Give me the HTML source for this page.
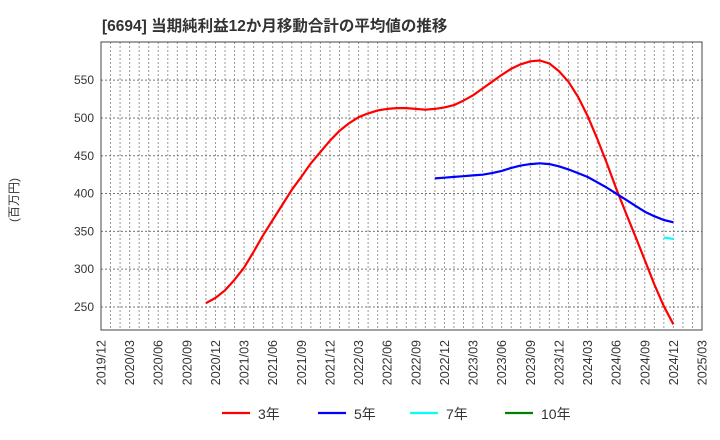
<!DOCTYPE html>
<html><head><meta charset="utf-8">
<style>
html,body{margin:0;padding:0;background:#fff;}
svg{display:block;font-family:"Liberation Sans","Noto Sans CJK JP",sans-serif;}
</style></head>
<body>
<svg id="chart" width="720" height="440" viewBox="0 0 720 440">
  <text x="102" y="31" font-size="15.5" font-weight="bold" fill="#333">[6694]  当期純利益12か月移動合計の平均値の推移</text>
  <text transform="translate(18,200) rotate(-90)" text-anchor="middle" font-size="12" fill="#333">(百万円)</text>
  <g id="grid"></g>
  <g id="yticks"></g>
  <g id="xticks"></g>
  <g id="series"></g>
  <rect x="101" y="42" width="601" height="288" fill="none" stroke="#444" stroke-width="1"/>
  <g id="legend"></g>
</svg>
<script>
const xLabels = ["2019/12","2020/03","2020/06","2020/09","2020/12","2021/03","2021/06","2021/09","2021/12","2022/03","2022/06","2022/09","2022/12","2023/03","2023/06","2023/09","2023/12","2024/03","2024/06","2024/09","2024/12","2025/03"];
const yTicks = [250,300,350,400,450,500,550];
const start3 = 11;
const series3 = [255,262,272,286,302,323,345,365,385,405,422,440,455,470,483,493,501,506,510,512,513,513,512,511,512,514,517,523,530,539,548,557,565,571,575,576,572,562,548,528,503,473,441,407,375,344,312,280,251,227];
const start5 = 35;
const series5 = [420,421,422,423,424,425,427,430,434,437,439,440,439,436,432,427,422,415,408,400,392,384,376,370,365,362];
const start7 = 59;
const series7 = [342,340];
const series10 = [];
const legendNames = ["3年","5年","7年","10年"];
const colors = ["#ff0000","#0000ff","#00ffff","#008000"];

const NS="http://www.w3.org/2000/svg";
const L=101,R=702,T=42,B=330,months=63,yMin=219.5,yMax=600.5;
function xs(m){return L+(R-L)*m/months;}
function ys(v){return B-(B-T)*(v-yMin)/(yMax-yMin);}
function mk(tag,attrs,parent){const e=document.createElementNS(NS,tag);for(const k in attrs)e.setAttribute(k,attrs[k]);parent.appendChild(e);return e;}

const grid=document.getElementById('grid');
for(let m=1;m<months;m++){
  const l=mk('line',{x1:xs(m),x2:xs(m),y1:T,y2:B,stroke:'#999','stroke-width':1,'stroke-dasharray':'2,2'},grid);
  
  
}
const yt=document.getElementById('yticks');
yTicks.forEach(v=>{
  const l=mk('line',{x1:L,x2:R,y1:ys(v),y2:ys(v),stroke:'#777','stroke-width':1,'stroke-dasharray':'2,2'},grid);
  
  
  const t=mk('text',{x:L-7,y:ys(v)+4,'text-anchor':'end','font-size':12,fill:'#333'},yt);
  t.textContent=v;
  
  
});
const xt=document.getElementById('xticks');
xLabels.forEach((lab,i)=>{
  const x=xs(i*3);
  const t=mk('text',{transform:`translate(${x+4.5},${B+10}) rotate(-90)`,'text-anchor':'end','font-size':12.5,fill:'#333'},xt);
  t.textContent=lab;
  
  
});
const sg=document.getElementById('series');
[[series3,start3,0,'line-3y'],[series5,start5,1,'line-5y'],[series7,start7,2,'line-7y'],[series10,0,3,'line-10y']].forEach(([d,s,ci,name])=>{
  if(!d.length)return;
  const pts=d.map((v,i)=>xs(s+i).toFixed(1)+','+ys(v).toFixed(1)).join(' ');
  const p=mk('polyline',{points:pts,fill:'none',stroke:colors[ci],'stroke-width':2.2,'stroke-linejoin':'round'},sg);
  
  
});
const lg=document.getElementById('legend');
const lx=[222,318,410,505];
legendNames.forEach((n,i)=>{
  const l=mk('line',{x1:lx[i],x2:lx[i]+28,y1:413,y2:413,stroke:colors[i],'stroke-width':2.2},lg);
  
  
  const t=mk('text',{x:lx[i]+36,y:419,'font-size':14,fill:'#333'},lg);
  t.textContent=n;
  
  
});
</script>
</body></html>
